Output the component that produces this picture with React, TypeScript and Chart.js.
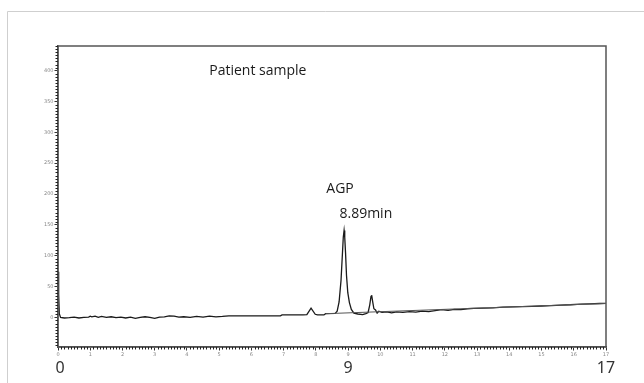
import { useEffect, useRef } from "react";
import { Chart, registerables } from "chart.js";

Chart.register(...registerables);

// Chromatogram trace (time in min, detector response)
const traceTimes = [
  0, 0.02, 0.04, 0.08, 0.2, 0.35, 0.5, 0.65, 0.8, 0.95,
  1.0, 1.05, 1.15, 1.25, 1.35, 1.5, 1.65, 1.8, 1.95, 2.1,
  2.25, 2.4, 2.55, 2.7, 2.85, 3.0, 3.15, 3.3, 3.45, 3.6,
  3.75, 3.9, 4.1, 4.3, 4.5, 4.7, 4.9, 5.1, 5.3, 5.6,
  6.0, 6.5, 6.9, 6.95, 7.3, 7.6, 7.72, 7.85, 7.98, 8.05,
  8.25, 8.3, 8.6, 8.66, 8.72, 8.78, 8.82, 8.85, 8.875, 8.89,
  8.9, 8.92, 8.95, 8.99, 9.04, 9.1, 9.18, 9.3, 9.45, 9.55,
  9.62, 9.67, 9.71, 9.73, 9.76, 9.8, 9.85, 9.9, 9.95, 10.05,
  10.2, 10.35, 10.5, 10.7, 10.9, 11.1, 11.3, 11.5, 11.7, 11.9,
  12.1, 12.3, 12.5, 12.7, 12.9, 13.2, 13.5, 13.8, 14.1, 14.4,
  14.7, 15.0, 15.3, 15.6, 15.9, 16.2, 16.5, 16.8, 17.0,
];
const traceValues = [
  74, 38, 6, 0, -1, -0.5, 0.5, -1, 0, 0.5,
  2, 1, 2, 0, 1.5, 0, 1, -0.5, 0.5, -1,
  0.5, -1.5, 0, 1, 0, -1.5, 0.5, 1, 2.5, 2,
  0.5, 1, 0, 1.5, 0.5, 2, 1, 1.5, 2.5, 2.5,
  2.5, 2.5, 2.5, 4, 4, 4, 4.5, 15, 5, 4,
  4, 6, 6.5, 10, 25, 60, 100, 130, 141, 141,
  130, 105, 68, 40, 24, 13, 7, 5.5, 4.5, 6,
  8, 20, 34, 36, 26, 14, 12, 7, 10, 8,
  9, 7.5, 9, 8, 9.5, 8.5, 10, 9.5, 11, 12.5,
  11.5, 13, 12.5, 14, 14.5, 15, 15.5, 16.5, 17, 17.5,
  18, 18.5, 19, 20, 20.5, 21.5, 22, 22.5, 22.6,
];

// Integration baseline
const baselineTimes = [8.3, 17];
const baselineValues = [6, 22.6];

const xTickValues = [0, 1, 2, 3, 4, 5, 6, 7, 8, 9, 10, 11, 12, 13, 14, 15, 16, 17];
const yTickValues = [0, 50, 100, 150, 200, 250, 300, 350, 400];
const bigXLabels = [0, 9, 17];

const annotations = [
  { text: "Patient sample", x: 6.2, y: 400 },
  { text: "AGP", x: 8.75, y: 208 },
  { text: "8.89min", x: 9.55, y: 168 },
];

const X_MIN = 0;
const X_MAX = 17;
const Y_MIN = -48;
const Y_MAX = 440;

const decorPlugin = {
  id: "decor",
  beforeDraw(chart: any) {
    const ctx = chart.ctx;
    ctx.save();
    ctx.fillStyle = "#ffffff";
    ctx.fillRect(0, 0, chart.width, chart.height);
    ctx.strokeStyle = "#cfcfcf";
    ctx.lineWidth = 1;
    ctx.beginPath();
    ctx.moveTo(7.5, chart.height);
    ctx.lineTo(7.5, 11.5);
    ctx.lineTo(chart.width, 11.5);
    ctx.stroke();
    ctx.restore();
  },
  afterDraw(chart: any) {
    const ctx = chart.ctx;
    const a = chart.chartArea;
    const xs = chart.scales.x;
    const ys = chart.scales.y;
    ctx.save();
    // plot frame
    ctx.strokeStyle = "#555";
    ctx.lineWidth = 1.5;
    ctx.strokeRect(a.left, a.top, a.right - a.left, a.bottom - a.top);
    // minor ticks
    ctx.strokeStyle = "#222";
    ctx.lineWidth = 1;
    ctx.beginPath();
    for (let i = -9; i <= 88; i++) {
      if (i % 10 === 0) continue;
      const py = Math.round(ys.getPixelForValue(i * 5)) + 0.5;
      if (py < a.top || py > a.bottom) continue;
      ctx.moveTo(a.left - 2.5, py);
      ctx.lineTo(a.left, py);
    }
    for (let i = 1; i < 170; i++) {
      if (i % 10 === 0) continue;
      const px = Math.round(xs.getPixelForValue(i / 10)) + 0.5;
      ctx.moveTo(px, a.bottom);
      ctx.lineTo(px, a.bottom + 2.5);
    }
    ctx.stroke();
    // big x labels
    ctx.fillStyle = "#333";
    ctx.font = "16px 'Noto Sans', 'Open Sans', sans-serif";
    ctx.textAlign = "center";
    ctx.textBaseline = "middle";
    for (const v of bigXLabels) {
      ctx.fillText(String(v), xs.getPixelForValue(v) + (v === 0 ? 2 : 0), 368);
    }
    // annotations
    ctx.fillStyle = "#1a1a1a";
    ctx.font = "14px 'Open Sans', sans-serif";
    for (const an of annotations) {
      ctx.fillText(an.text, xs.getPixelForValue(an.x), ys.getPixelForValue(an.y));
    }
    ctx.restore();
  },
};

export default function App() {
  const ref = useRef<HTMLCanvasElement | null>(null);

  useEffect(() => {
    if (!ref.current) return;
    const trace = traceTimes.map((t, i) => ({ x: t, y: traceValues[i] }));
    const baseline = baselineTimes.map((t, i) => ({ x: t, y: baselineValues[i] }));
    const chart = new Chart(ref.current, {
      type: "line",
      data: {
        datasets: [
          {
            label: "Baseline",
            data: baseline,
            borderColor: "#555",
            borderWidth: 1,
            pointRadius: 0,
            tension: 0,
          },
          {
            label: "Patient sample",
            data: trace,
            borderColor: "#1a1a1a",
            borderWidth: 1.3,
            pointRadius: 0,
            tension: 0,
          },
        ],
      },
      options: {
        responsive: false,
        animation: false,
        events: [],
        layout: { padding: { top: 46, right: 38, left: 0, bottom: 0 } },
        plugins: {
          legend: { display: false },
          tooltip: { enabled: false },
          title: { display: false },
        },
        scales: {
          x: {
            type: "linear",
            min: X_MIN,
            max: X_MAX,
            afterBuildTicks: (axis: any) => {
              axis.ticks = xTickValues.map((v) => ({ value: v }));
            },
            afterFit: (s: any) => {
              s.height = 36;
            },
            ticks: {
              autoSkip: false,
              maxRotation: 0,
              padding: 1,
              color: "#888",
              font: { size: 5, family: "'DejaVu Sans', sans-serif" },
            },
            grid: {
              drawOnChartArea: false,
              drawTicks: true,
              tickLength: 3.5,
              tickColor: "#333",
            },
            border: { display: true, color: "#444", width: 1.5 },
          },
          y: {
            type: "linear",
            min: Y_MIN,
            max: Y_MAX,
            afterBuildTicks: (axis: any) => {
              axis.ticks = yTickValues.map((v) => ({ value: v }));
            },
            afterFit: (s: any) => {
              s.width = 58;
            },
            ticks: {
              autoSkip: false,
              padding: 1,
              color: "#888",
              font: { size: 5, family: "'DejaVu Sans', sans-serif" },
            },
            grid: {
              drawOnChartArea: false,
              drawTicks: true,
              tickLength: 3.5,
              tickColor: "#333",
            },
            border: { display: true, color: "#444", width: 1.5 },
          },
        },
      },
      plugins: [decorPlugin],
    });
    return () => chart.destroy();
  }, []);

  return (
    <div style={{ position: "absolute", left: 0, top: 0, width: 644, height: 383 }}>
      <canvas ref={ref} width={644} height={383} style={{ display: "block", width: 644, height: 383 }} />
    </div>
  );
}
